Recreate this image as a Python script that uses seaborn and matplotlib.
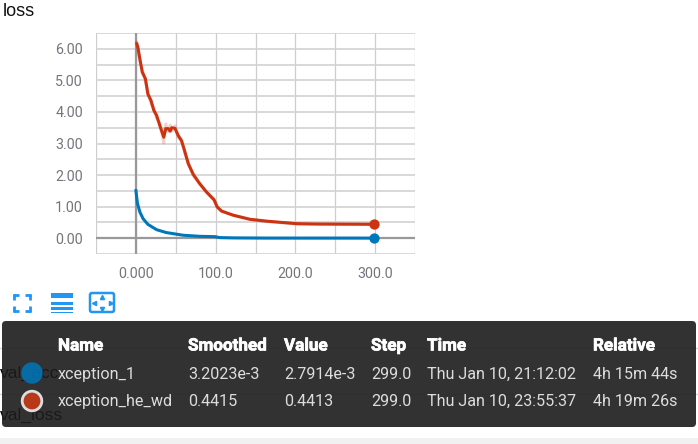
import pandas as pd
import matplotlib
matplotlib.use("Agg")
import matplotlib.pyplot as plt
import matplotlib.patheffects as pe
from matplotlib.patches import Circle, FancyBboxPatch, Rectangle
import seaborn as sns

# smoothed curves
blue_steps = [0, 2, 5, 9, 15, 26, 38, 59, 80, 99, 105, 122, 164, 299]
blue_vals = [1.52, 1.10, 0.83, 0.62, 0.44, 0.27, 0.18, 0.095, 0.06, 0.05, 0.02, 0.01, 0.004, 0.0032]
red_steps = [1, 2.5, 5, 8, 12, 15, 19, 22.5, 26, 30, 35, 37.5, 40.5, 43, 45, 49, 53, 57.3, 61, 65.7, 72, 80,
             88.7, 98, 102, 107.5, 122, 143, 164, 202, 227, 299]
red_vals = [6.17, 6.05, 5.68, 5.26, 5.05, 4.57, 4.36, 4.05, 3.89, 3.57, 3.20, 3.47, 3.47, 3.39, 3.50, 3.48,
            3.26, 3.08, 2.78, 2.36, 2.02, 1.73, 1.46, 1.22, 0.99, 0.86, 0.73, 0.60, 0.54, 0.46, 0.45, 0.4415]
# raw values, only differ from the smoothed line early on
raw_steps = [1, 5, 8, 12, 15, 19, 22.5, 26, 30, 35, 35, 37.5, 40.5, 43, 45, 49, 53, 57.3, 61, 65.7, 72, 80,
             88.7, 98, 102, 107.5, 122, 143, 164, 202, 227, 299]
raw_vals = [6.22, 5.60, 5.35, 4.95, 4.65, 4.25, 4.12, 3.80, 3.65, 3.02, 3.30, 3.62, 3.38, 3.58, 3.40, 3.56,
            3.18, 3.14, 2.72, 2.40, 1.98, 1.72, 1.45, 1.20, 0.98, 0.85, 0.72, 0.59, 0.53, 0.45, 0.44, 0.4413]

x_ticks = [0, 100, 200, 300]
x_labels = ["0.000", "100.0", "200.0", "300.0"]
y_ticks = [0, 1, 2, 3, 4, 5, 6]
y_labels = ["0.00", "1.00", "2.00", "3.00", "4.00", "5.00", "6.00"]

# table
headers = ["Name", "Smoothed", "Value", "Step", "Time", "Relative"]
row_blue = ["xception_1", "3.2023e-3", "2.7914e-3", "299.0", "Thu Jan 10, 21:12:02", "4h 15m 44s"]
row_red = ["xception_he_wd", "0.4415", "0.4413", "299.0", "Thu Jan 10, 23:55:37", "4h 19m 26s"]
col_x = [58, 188, 284, 371, 427, 593]

BLUE = "#0077bb"
RED = "#cc3311"

sns.set_style("white")
plt.rcParams["font.family"] = ["Roboto", "DejaVu Sans"]

df_blue = pd.DataFrame({"step": blue_steps, "val": blue_vals})
df_red = pd.DataFrame({"step": red_steps, "val": red_vals})
df_raw = pd.DataFrame({"step": raw_steps, "val": raw_vals})

W, H = 698, 444
fig = plt.figure(figsize=(W / 100, H / 100), dpi=100)

# whole figure in pixels for the page stuff
page = fig.add_axes([0, 0, 1, 1], zorder=0)
page.set_xlim(0, W)
page.set_ylim(H, 0)
page.axis("off")

page.text(3, 11, "loss", fontsize=13, family="Liberation Sans", va="center", color="#111111")
page.plot([0, W], [348, 348], color="#d8d8d8", lw=1)
page.plot([0, W], [394, 394], color="#d8d8d8", lw=1)
page.text(0, 373, "val_acc", fontsize=12.6, family="Liberation Sans", va="center", color="black")
page.text(0, 415, "val_loss", fontsize=12.6, family="Liberation Sans", va="center", color="black")
page.add_patch(Rectangle((0, 438), W, 6, color="#f1f1f1", lw=0))

# chart
ax = fig.add_axes([96 / W, 1 - 254 / H, 319 / W, 221 / H], zorder=1)
ax.patch.set_alpha(0)
sns.lineplot(data=df_raw, x="step", y="val", color=RED, alpha=0.22, lw=2.2, ax=ax, estimator=None, sort=False)
sns.lineplot(data=df_blue, x="step", y="val", color=BLUE, lw=2.2, ax=ax, estimator=None)
sns.lineplot(data=df_red, x="step", y="val", color=RED, lw=2.2, ax=ax, estimator=None)
ax.scatter([blue_steps[-1]], [blue_vals[-1]], s=55, color=BLUE, zorder=5, clip_on=False, lw=0)
ax.scatter([red_steps[-1]], [red_vals[-1]], s=55, color=RED, zorder=5, clip_on=False, lw=0)

ax.set_xlim(-50, 350)
ax.set_ylim(-0.5, 6.5)
ax.set_xlabel("")
ax.set_ylabel("")
ax.set_xticks(x_ticks, x_labels)
ax.set_yticks(y_ticks, y_labels)
ax.set_xticks([-50, 50, 150, 250, 350], minor=True)
ax.set_yticks([-0.5, 0.5, 1.5, 2.5, 3.5, 4.5, 5.5, 6.5], minor=True)
ax.grid(True, axis="y", which="both", color="#d2d2d2", lw=1.2)
ax.grid(True, axis="x", which="both", color="#cdcdcd", lw=0.9)
ax.set_axisbelow(True)
ax.axhline(0, color="#999999", lw=1.6, zorder=1.5)
ax.axvline(0, color="#999999", lw=1.6, zorder=1.5)
for s in ax.spines.values():
    s.set_visible(False)
ax.tick_params(which="both", length=4.3, width=1, color="#cccccc", labelcolor="#74747c", labelsize=10.3, pad=5)
ax.tick_params(axis="x", which="major", pad=5)

# icons under the chart
ui = fig.add_axes([0, 0, 1, 1], zorder=2)
ui.set_xlim(0, W)
ui.set_ylim(H, 0)
ui.axis("off")
ICON = "#2196f3"
# fit-to-screen corners
for x0, x1, y0 in [(13, 19, 295), (25, 31, 295), (13, 19, 311), (25, 31, 311)]:
    ui.plot([x0, x1], [y0, y0], color=ICON, lw=2, solid_capstyle="butt")
for x0, y0, y1 in [(14, 294, 300), (30, 294, 300), (14, 306, 312), (30, 306, 312)]:
    ui.plot([x0, x0], [y0, y1], color=ICON, lw=2, solid_capstyle="butt")
# list icon
ui.add_patch(Rectangle((51, 293), 22, 5, color=ICON, lw=0))
ui.add_patch(Rectangle((51, 301.5), 22, 3.5, color=ICON, lw=0))
ui.add_patch(Rectangle((51, 307), 22, 2.5, color=ICON, lw=0))
ui.add_patch(Rectangle((51, 311.5), 22, 1.5, color=ICON, lw=0))
# expand icon
ui.add_patch(FancyBboxPatch((90, 293), 24, 19, boxstyle="round,pad=0,rounding_size=2", fc="white", ec=ICON, lw=1.8))
ui.plot([102], [296.5], marker="^", ms=3, color=ICON, lw=0)
ui.plot([102], [309], marker="v", ms=3, color=ICON, lw=0)
ui.plot([93.5], [302.5], marker="<", ms=3, color=ICON, lw=0)
ui.plot([110.5], [302.5], marker=">", ms=3, color=ICON, lw=0)

# tooltip box
ui.add_patch(FancyBboxPatch((2, 321), 694, 106, boxstyle="round,pad=0,rounding_size=4",
                            fc="#1c1c1c", ec="none", alpha=0.9))
bold = [pe.withStroke(linewidth=0.5, foreground="white")]
for x, h in zip(col_x, headers):
    ui.text(x, 346, h, color="white", fontsize=12.3, fontweight="bold", va="center", path_effects=bold)
for x, t in zip(col_x, row_blue):
    ui.text(x, 374, t, color="#dddddd", fontsize=11.65, va="center")
for x, t in zip(col_x, row_red):
    ui.text(x, 401, t, color="#dddddd", fontsize=11.65, va="center")
ui.add_patch(Circle((32, 373), 10.7, fc=BLUE, ec="none", alpha=0.85))
ui.add_patch(Circle((32, 401), 9.8, fc="#b8391a", ec="#dddddd", lw=2))

fig.savefig("out.png", dpi=100)
